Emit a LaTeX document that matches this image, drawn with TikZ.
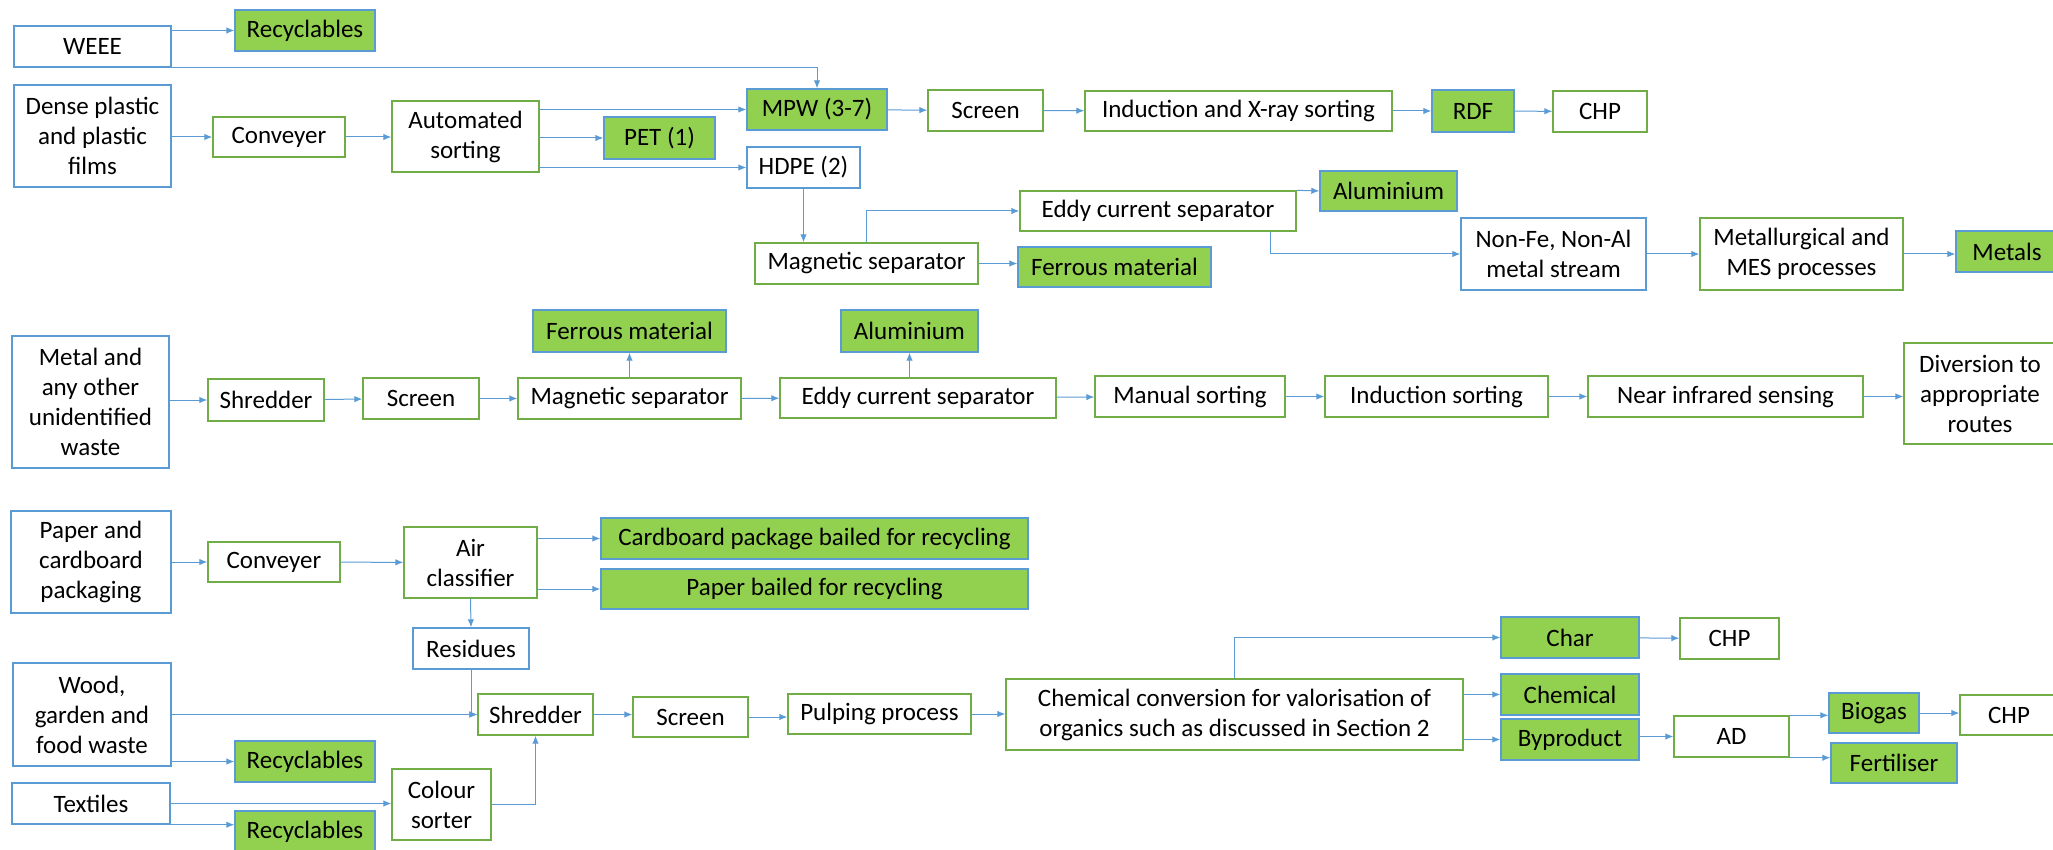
\documentclass[tikz,border=0pt]{standalone}
\usepackage{fontspec}
\setmainfont{Carlito}
\usetikzlibrary{arrows.meta}

\definecolor{boxblue}{HTML}{5B9BD5}
\definecolor{boxgreen}{HTML}{70AD47}
\definecolor{prodfill}{HTML}{92D050}

\begin{document}
\begin{tikzpicture}[x=1pt,y=-1pt,
  every node/.style={font=\fontsize{25}{30}\selectfont,align=center,inner sep=0pt},
  wh/.style 2 args={minimum width=#1,minimum height=#2},
  src/.style={draw=boxblue,fill=white,line width=1.4pt},
  proc/.style={draw=boxgreen,fill=white,line width=1.4pt},
  prod/.style={draw=boxblue,fill=prodfill,line width=1.4pt},
  flow/.style={draw=boxblue,line width=1pt,-{Latex[length=8pt,width=6.5pt]}}]
\useasboundingbox (0,0) rectangle (2053,850);
\clip (0,0) rectangle (2053,850);

% plastics and WEEE
\node[src,wh={157}{41}] (weee) at (92.5,46.5) {WEEE};
\node[prod,wh={140}{41}] (rec1) at (305,30.5) {Recyclables};
\node[src,wh={157}{102}] (dense) at (92.5,136) {Dense plastic\\and plastic\\films};
\node[proc,wh={132}{40}] (conv1) at (279,137) {Conveyer};
\node[proc,wh={147}{71}] (auto) at (465.5,136.5) {Automated\\sorting};
\node[prod,wh={111}{42}] (pet) at (659.5,138) {PET (1)};
\node[prod,wh={140}{41}] (mpw) at (817,109.5) {MPW (3-7)};
\node[src,wh={113}{41}] (hdpe) at (803.5,167.5) {HDPE (2)};
\node[proc,wh={115}{41}] (screen1) at (985.5,110.5) {Screen};
\node[proc,wh={307}{40}] (indx) at (1238.5,111) {Induction and X-ray sorting};
\node[prod,wh={82}{42}] (rdf) at (1473,111) {RDF};
\node[proc,wh={94}{41}] (chp1) at (1600,111.5) {CHP};
\node[proc,wh={223}{41}] (magsep1) at (866.5,263.5) {Magnetic separator};
\node[prod,wh={193}{40}] (ferr1) at (1114.5,267) {Ferrous material};
\node[proc,wh={276}{40}] (eddy1) at (1158,211) {Eddy current separator};
\node[prod,wh={137}{40}] (alu1) at (1388.5,191) {Aluminium};
\node[src,wh={185}{72}] (nonfe) at (1553.5,254) {Non-Fe, Non-Al\\metal stream};
\node[proc,wh={203}{72}] (metallurg) at (1801.5,254) {Metallurgical and\\MES processes};
\node[prod,wh={102}{41}] (metals) at (2007,251.5) {Metals};

\draw[flow] (weee.east |- rec1.west) -- (rec1.west);
\draw[flow] (weee.south east) -| (mpw.north);
\draw[flow] (dense.east |- conv1.west) -- (conv1.west);
\draw[flow] (conv1.east) -- (auto.west |- conv1.east);
\draw[flow] (auto.east |- mpw.west) -- (mpw.west);
\draw[flow] (auto.east |- pet.west) -- (pet.west);
\draw[flow] (auto.east |- hdpe.west) -- (hdpe.west);
\draw[flow] (mpw) -- (screen1);
\draw[flow] (screen1) -- (indx);
\draw[flow] (indx) -- (rdf);
\draw[flow] (rdf) -- (chp1);
\draw[flow] (hdpe.south) -- (hdpe.south |- magsep1.north);
\draw[flow] (magsep1.east) -- (ferr1.west |- magsep1.east);
\draw[flow] (magsep1.north) |- (eddy1.west);
\draw[flow] (eddy1.north east) -- (alu1.west);
\draw[flow] ([xshift=-26pt]eddy1.south east) |- (nonfe.west);
\draw[flow] (nonfe) -- (metallurg);
\draw[flow] (metallurg.east) -- (metals.west |- metallurg.east);

% metals and unidentified waste
\node[src,wh={157}{132}] (metal) at (90.5,402) {Metal and\\any other\\unidentified\\waste};
\node[proc,wh={116}{42}] (shred1) at (266,400) {Shredder};
\node[proc,wh={116}{41}] (screen2) at (421,398.5) {Screen};
\node[proc,wh={223}{41}] (magsep2) at (629.5,398.5) {Magnetic separator};
\node[prod,wh={193}{42}] (ferr2) at (629.5,331) {Ferrous material};
\node[proc,wh={276}{40}] (eddy2) at (918,398) {Eddy current separator};
\node[prod,wh={137}{42}] (alu2) at (909.5,331) {Aluminium};
\node[proc,wh={190}{41}] (manual) at (1190,396.5) {Manual sorting};
\node[proc,wh={223}{41}] (indsort) at (1436.5,396.5) {Induction sorting};
\node[proc,wh={275}{41}] (nir) at (1725.5,396.5) {Near infrared sensing};
\node[proc,wh={152}{101}] (divert) at (1980,393.5) {Diversion to\\appropriate\\routes};

\draw[flow] (metal.east |- shred1.west) -- (shred1.west);
\draw[flow] (shred1) -- (screen2);
\draw[flow] (screen2) -- (magsep2);
\draw[flow] (magsep2) -- (eddy2);
\draw[flow] (eddy2) -- (manual);
\draw[flow] (manual) -- (indsort);
\draw[flow] (indsort) -- (nir);
\draw[flow] (nir.east) -- (divert.west |- nir.east);
\draw[flow] (magsep2) -- (ferr2);
\draw[flow] (alu2.south |- eddy2.north) -- (alu2.south);

% paper, organics and textiles
\node[src,wh={160}{102}] (paper) at (91,562) {Paper and\\cardboard\\packaging};
\node[proc,wh={132}{40}] (conv2) at (274,562) {Conveyer};
\node[proc,wh={133}{71}] (air) at (470.5,562.5) {Air\\classifier};
\node[prod,wh={427}{41}] (cardb) at (814.5,538.5) {Cardboard package bailed for recycling};
\node[prod,wh={427}{40}] (paperb) at (814.5,589) {Paper bailed for recycling};
\node[src,wh={116}{41}] (resid) at (471,648.5) {Residues};
\node[src,wh={158}{103}] (wood) at (92,714.5) {Wood,\\garden and\\food waste};
\node[proc,wh={115}{41}] (shred2) at (535.5,714.5) {Shredder};
\node[prod,wh={140}{41}] (rec2) at (305,761.5) {Recyclables};
\node[src,wh={158}{41}] (textiles) at (91,803.5) {Textiles};
\node[prod,wh={140}{41}] (rec3) at (305,831.5) {Recyclables};
\node[proc,wh={99}{71}] (colour) at (441.5,804.5) {Colour\\sorter};
\node[proc,wh={115}{40}] (screen3) at (690.5,717) {Screen};
\node[proc,wh={183}{40}] (pulp) at (879.5,714) {Pulping process};
\node[proc,wh={457}{71}] (chemconv) at (1234.5,714.5) {Chemical conversion for valorisation of\\organics such as discussed in Section 2};
\node[prod,wh={138}{41}] (char) at (1570,637.5) {Char};
\node[proc,wh={99}{41}] (chp2) at (1729.5,638.5) {CHP};
\node[prod,wh={138}{41}] (chem) at (1570,694.5) {Chemical};
\node[prod,wh={138}{41}] (byprod) at (1570,739.5) {Byproduct};
\node[proc,wh={115}{41}] (ad) at (1731.5,736.5) {AD};
\node[prod,wh={90}{40}] (biogas) at (1874,713) {Biogas};
\node[prod,wh={126}{40}] (fert) at (1894,763) {Fertiliser};
\node[proc,wh={98}{40}] (chp3) at (2009,715) {CHP};

\draw[flow] (paper) -- (conv2);
\draw[flow] (conv2) -- (air);
\draw[flow] (air.east |- cardb.west) -- (cardb.west);
\draw[flow] (air.east |- paperb.west) -- (paperb.west);
\draw[flow] (air.south) -- (resid.north);
\draw[flow] (resid.south) |- (shred2.west);
\draw[flow] (wood.east |- shred2.west) -- (shred2.west);
\draw[flow] (wood.east |- rec2.west) -- (rec2.west);
\draw[flow] (textiles.east) -- (colour.west |- textiles.east);
\draw[flow] (textiles.south east) -- (textiles.south east -| rec3.west);
\draw[flow] (colour.east) -| (shred2.south);
\draw[flow] (shred2.east) -- (screen3.west |- shred2.east);
\draw[flow] (screen3.east) -- (pulp.west |- screen3.east);
\draw[flow] (pulp.east) -- (chemconv.west |- pulp.east);
\draw[flow] (chemconv.north) |- (char.west);
\draw[flow] (char) -- (chp2);
\draw[flow] (chemconv.east |- chem.west) -- (chem.west);
\draw[flow] (chemconv.east |- byprod.west) -- (byprod.west);
\draw[flow] (byprod.east |- ad.west) -- (ad.west);
\draw[flow] (ad.north east) -- (ad.north east -| biogas.west);
\draw[flow] (ad.south east) -- (ad.south east -| fert.west);
\draw[flow] (biogas.east) -- (chp3.west |- biogas.east);
\end{tikzpicture}
\end{document}
